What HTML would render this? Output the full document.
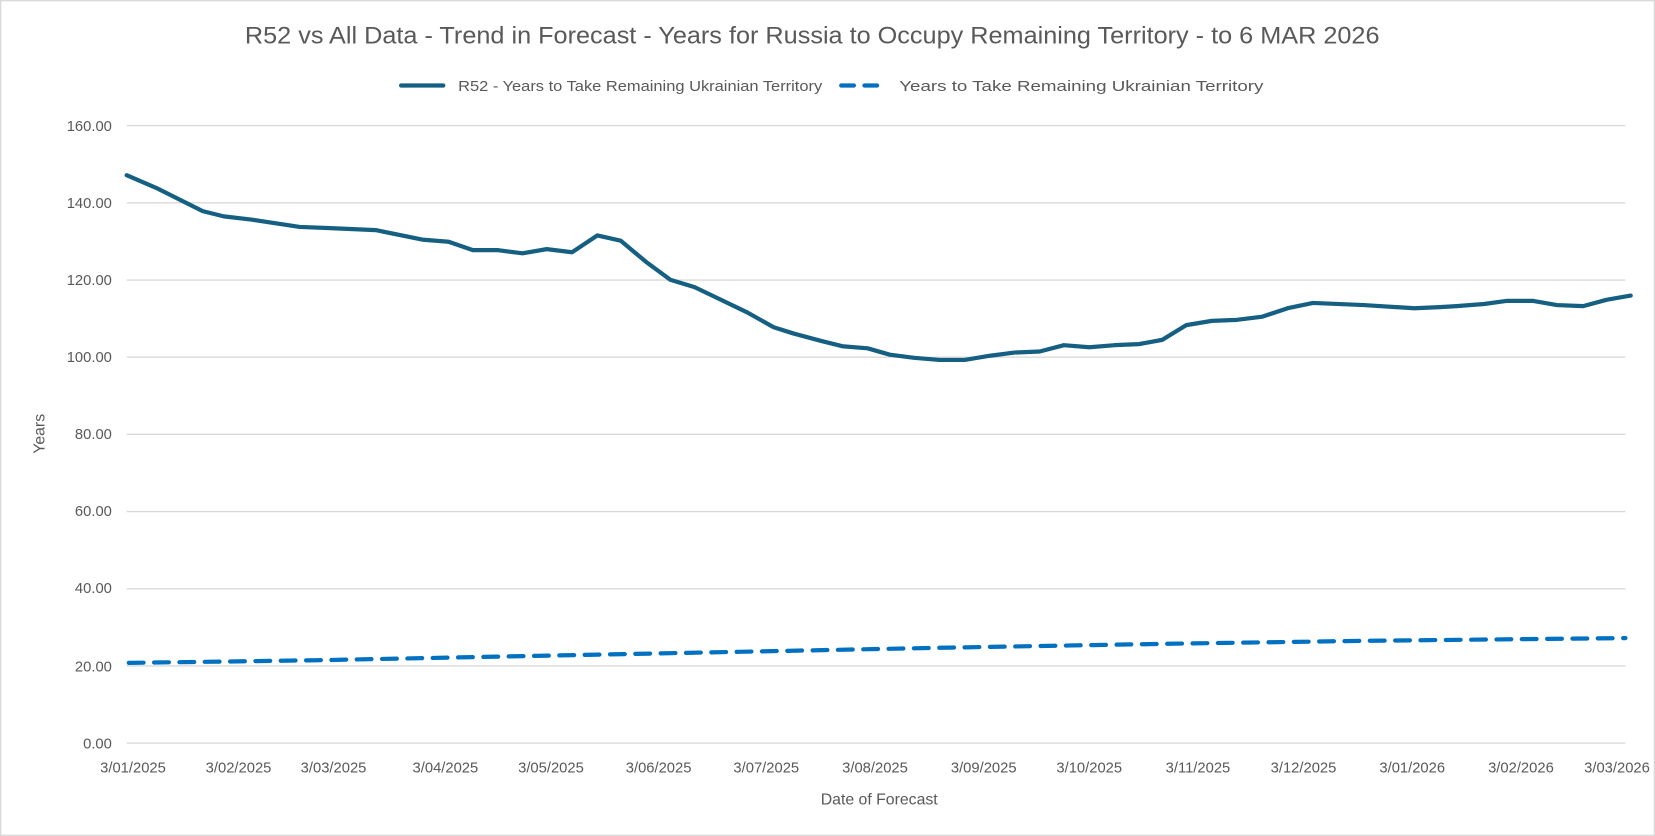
<!DOCTYPE html>
<html><head><meta charset="utf-8"><style>
html,body{margin:0;padding:0;background:#fff;}
svg{display:block;}
text{font-family:"Liberation Sans",sans-serif;fill:#595959;}
</style></head><body>
<svg width="1655" height="836" viewBox="0 0 1568 792" preserveAspectRatio="none">
<rect x="0.5" y="0.5" width="1567" height="791" fill="#fff" stroke="#d9d9d9" stroke-width="1.5"/>
<text x="232" y="41" font-size="23" textLength="1075" lengthAdjust="spacingAndGlyphs">R52 vs All Data  - Trend in Forecast - Years for Russia to Occupy Remaining Territory - to 6 MAR 2026</text>
<line x1="380" y1="81" x2="420" y2="81" stroke="#156082" stroke-width="4" stroke-linecap="round"/>
<text x="434" y="86" font-size="14" textLength="345" lengthAdjust="spacingAndGlyphs">R52 - Years to Take Remaining Ukrainian Territory</text>
<line x1="797" y1="81" x2="837" y2="81" stroke="#0070C0" stroke-width="4" stroke-dasharray="12 10" stroke-linecap="round"/>
<text x="852" y="86" font-size="14" textLength="345" lengthAdjust="spacingAndGlyphs">Years to Take Remaining Ukrainian Territory</text>
<g stroke="#d9d9d9" stroke-width="1.3">
<line x1="120" x2="1540" y1="119" y2="119"/><line x1="120" x2="1540" y1="192.1" y2="192.1"/>
<line x1="120" x2="1540" y1="265.3" y2="265.3"/><line x1="120" x2="1540" y1="338.4" y2="338.4"/>
<line x1="120" x2="1540" y1="411.5" y2="411.5"/><line x1="120" x2="1540" y1="484.6" y2="484.6"/>
<line x1="120" x2="1540" y1="557.8" y2="557.8"/><line x1="120" x2="1540" y1="630.9" y2="630.9"/>
<line x1="120" x2="1540" y1="704" y2="704"/>
</g>
<g font-size="14" text-anchor="end">
<text x="106" y="124">160.00</text><text x="106" y="197">140.00</text><text x="106" y="270">120.00</text>
<text x="106" y="343">100.00</text><text x="106" y="416">80.00</text><text x="106" y="489">60.00</text>
<text x="106" y="562">40.00</text><text x="106" y="636">20.00</text><text x="106" y="709">0.00</text>
</g>
<g font-size="14" text-anchor="middle">
<text x="126" y="732">3/01/2025</text><text x="226" y="732">3/02/2025</text><text x="316" y="732">3/03/2025</text>
<text x="422" y="732">3/04/2025</text><text x="522" y="732">3/05/2025</text><text x="624" y="732">3/06/2025</text>
<text x="726" y="732">3/07/2025</text><text x="829" y="732">3/08/2025</text><text x="932" y="732">3/09/2025</text>
<text x="1032" y="732">3/10/2025</text><text x="1135" y="732">3/11/2025</text><text x="1235" y="732">3/12/2025</text>
<text x="1338" y="732">3/01/2026</text><text x="1441" y="732">3/02/2026</text><text x="1532" y="732">3/03/2026</text>
</g>
<text x="833" y="762" font-size="15" text-anchor="middle">Date of Forecast</text>
<text x="0" y="0" font-size="15" text-anchor="middle" transform="translate(42,411) rotate(-90)">Years</text>
<polyline fill="none" stroke="#0070C0" stroke-width="4" stroke-dasharray="14 10" stroke-linecap="round" points="122,628 300,625.5 500,621.5 700,617.5 900,613.5 1100,610 1300,607 1540,604.5"/>
<polyline fill="none" stroke="#156082" stroke-width="4" stroke-linejoin="round" stroke-linecap="round" points="120,166 148,178 192,200 212,205 238,208 284,215 310,216 356,218 400,227 425,229 448,237 472,237 495,240 518,236 542,239 566,223 588,228 612,248 635,265 658,272 683,284 708,296 733,310 752,316 778,323 798,328 822,330 843,336 866,339 890,341 914,341 938,337 961,334 985,333 1008,327 1032,329 1056,327 1079,326 1101,322 1124,308 1148,304 1172,303 1196,300 1220,292 1244,287 1292,289 1340,292 1364,291 1380,290 1406,288 1428,285 1452,285 1475,289 1500,290 1522,284 1545,280"/>
</svg>
</body></html>
